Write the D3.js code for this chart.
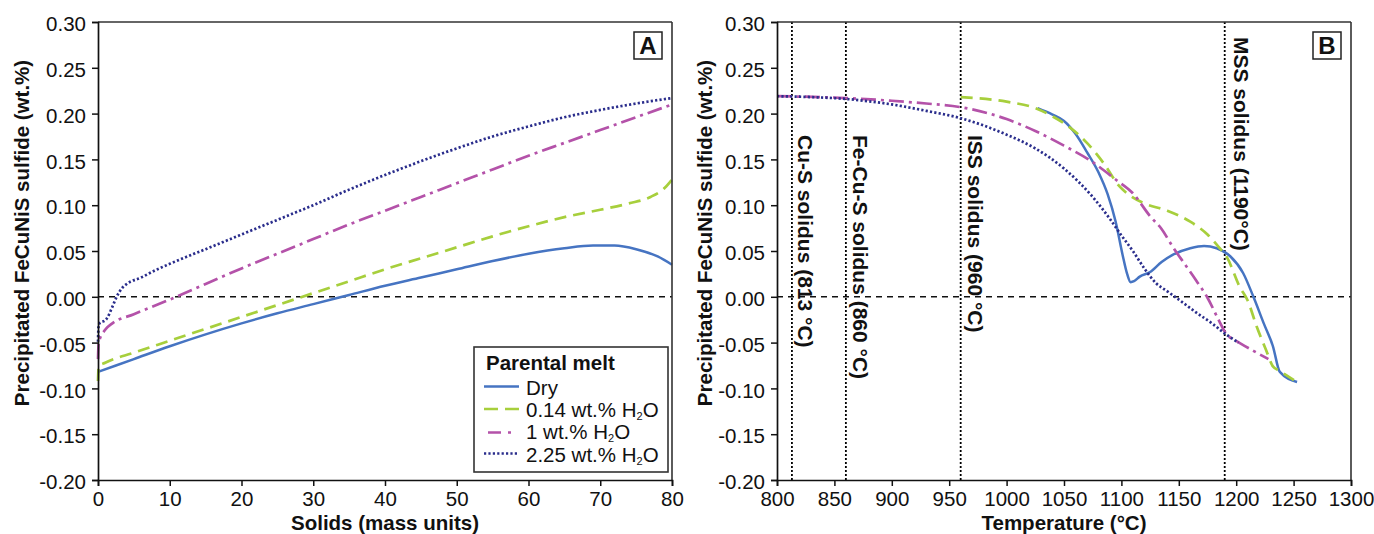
<!DOCTYPE html>
<html>
<head>
<meta charset="utf-8">
<script src="https://cdn.jsdelivr.net/npm/d3@7"></script>
<style>
  html, body { margin: 0; padding: 0; background: #fff; }
  svg text { font-family: "Liberation Sans", Arial, Helvetica, sans-serif; fill: #111; }
</style>
</head>
<body>
<svg id="chart" width="1374" height="534"></svg>
<script>
// ---------------- DATA ----------------
const yTicks = [0.30, 0.25, 0.20, 0.15, 0.10, 0.05, 0.00, -0.05, -0.10, -0.15, -0.20];
const xTicksA = [0, 10, 20, 30, 40, 50, 60, 70, 80];
const xTicksB = [800, 850, 900, 950, 1000, 1050, 1100, 1150, 1200, 1250, 1300];

const seriesNames = ["Dry", "0.14 wt.% H2O", "1 wt.% H2O", "2.25 wt.% H2O"];

// Panel A: solids (mass units) vs precipitated sulfide (wt.%)
const dryA = [[0,-0.082],[5,-0.068],[10,-0.054],[15,-0.041],[20,-0.029],[25,-0.018],[30,-0.008],[35,0.002],[40,0.012],[45,0.021],[50,0.030],[55,0.039],[60,0.047],[65,0.053],[69,0.056],[72,0.056],[75,0.052],[78,0.044],[80,0.035]];
const h014A = [[0,-0.092],[0.1,-0.076],[1,-0.072],[5,-0.061],[10,-0.048],[15,-0.035],[20,-0.022],[25,-0.009],[30,0.004],[35,0.017],[40,0.030],[45,0.042],[50,0.054],[55,0.066],[60,0.077],[65,0.087],[70,0.095],[74,0.102],[77,0.109],[79,0.119],[80,0.128]];
const h1A = [[0,-0.068],[0.1,-0.05],[1,-0.036],[2,-0.029],[5,-0.019],[10,-0.003],[15,0.014],[20,0.031],[25,0.047],[30,0.063],[35,0.079],[40,0.094],[45,0.109],[50,0.124],[55,0.139],[60,0.154],[65,0.168],[70,0.182],[75,0.196],[80,0.210]];
const h225A = [[0,-0.049],[0.1,-0.03],[1.2,-0.024],[2,-0.011],[2.6,0.0],[3.3,0.009],[4,0.014],[6,0.021],[8,0.029],[10,0.036],[15,0.052],[20,0.068],[25,0.084],[30,0.100],[35,0.117],[40,0.133],[45,0.148],[50,0.162],[55,0.175],[60,0.186],[65,0.196],[70,0.204],[75,0.211],[80,0.217]];

// Panel B: temperature (°C) vs precipitated sulfide (wt.%)
const dryB = [[1027,0.206],[1040,0.199],[1050,0.192],[1060,0.178],[1070,0.158],[1080,0.136],[1088,0.112],[1095,0.082],[1101,0.046],[1105,0.025],[1108,0.016],[1111,0.017],[1116,0.022],[1125,0.027],[1135,0.038],[1145,0.046],[1160,0.053],[1172,0.0555],[1183,0.053],[1195,0.044],[1206,0.026],[1215,0.0],[1224,-0.029],[1232,-0.054],[1238,-0.082],[1253,-0.093]];
const h014B = [[960,0.218],[1000,0.213],[1025,0.206],[1040,0.197],[1055,0.185],[1070,0.168],[1085,0.145],[1098,0.121],[1108,0.110],[1120,0.102],[1140,0.094],[1160,0.082],[1175,0.068],[1185,0.054],[1192,0.043],[1203,0.011],[1210,-0.004],[1218,-0.033],[1226,-0.058],[1232,-0.076],[1238,-0.081],[1253,-0.093]];
const h1B = [[800,0.219],[860,0.217],[900,0.214],[930,0.211],[960,0.207],[1000,0.194],[1025,0.181],[1050,0.165],[1075,0.147],[1095,0.128],[1110,0.113],[1125,0.088],[1135,0.074],[1145,0.054],[1155,0.036],[1165,0.018],[1175,-0.001],[1185,-0.026],[1191,-0.040],[1200,-0.048],[1215,-0.059],[1228,-0.068]];
const h225B = [[800,0.219],[830,0.218],[860,0.216],[900,0.210],[930,0.203],[960,0.195],[1000,0.177],[1025,0.162],[1050,0.140],[1075,0.109],[1090,0.085],[1100,0.067],[1110,0.050],[1120,0.031],[1130,0.015],[1140,0.006],[1150,-0.003],[1165,-0.017],[1180,-0.030],[1190,-0.040],[1202,-0.050]];

const solidusTemps = [813, 860, 960, 1190];
const solidusLabels = ["Cu-S solidus (813 °C)", "Fe-Cu-S solidus (860 °C)", "ISS solidus (960 °C)", "MSS solidus (1190°C)"];

// ---------------- STYLES ----------------
const styles = [
  { color: "#4674c2", dash: null, width: 2.5 },
  { color: "#a7cf3c", dash: "12,7", width: 2.7 },
  { color: "#b452a9", dash: "15,5,3,5", width: 2.7 },
  { color: "#2a2d8c", dash: "2.2,2.2", width: 2.7 }
];

const svg = d3.select("#chart");
const plotTop = 22, plotBottom = 480;
const y = d3.scaleLinear().domain([-0.20, 0.30]).range([plotBottom, plotTop]);

function panel(opts) {
  const { x0, x1, domain, ticks, series, title, ytitleX, letter, letterX } = opts;
  const x = d3.scaleLinear().domain(domain).range([x0, x1]);
  const g = svg.append("g");

  // zero dashed line
  g.append("line")
    .attr("x1", x0).attr("x2", x1).attr("y1", y(0)).attr("y2", y(0))
    .attr("stroke", "#111").attr("stroke-width", 1.4).attr("stroke-dasharray", "6,5");

  if (opts.vlines) opts.vlines(g, x);

  const line = d3.line().x(d => x(d[0])).y(d => y(d[1])).curve(d3.curveMonotoneX);
  series.forEach((s, i) => {
    g.append("path").datum(s)
      .attr("d", line)
      .attr("fill", "none")
      .attr("stroke", styles[i].color)
      .attr("stroke-width", styles[i].width)
      .attr("stroke-dasharray", styles[i].dash);
  });

  // frame
  g.append("line").attr("x1", x0).attr("x2", x1).attr("y1", plotTop).attr("y2", plotTop)
    .attr("stroke", "#333").attr("stroke-width", 1.6);
  g.append("line").attr("x1", x1).attr("x2", x1).attr("y1", plotTop).attr("y2", plotBottom)
    .attr("stroke", "#333").attr("stroke-width", 1.6);

  // axes
  const ya = g.append("g").attr("transform", `translate(${x0},0)`)
    .call(d3.axisLeft(y).tickValues(yTicks).tickFormat(d => d.toFixed(2)).tickSize(6).tickPadding(6));
  ya.select(".domain").attr("stroke", "#111").attr("stroke-width", 1.7);
  ya.selectAll(".tick line").attr("stroke", "#111").attr("stroke-width", 1.5);
  ya.selectAll(".tick text").attr("font-size", 20.5).attr("font-family", null).attr("dy", "0.42em").attr("fill", "#111");

  const xa = g.append("g").attr("transform", `translate(0,${plotBottom})`)
    .call(d3.axisBottom(x).tickValues(ticks).tickFormat(d3.format("d")).tickSize(6).tickPadding(6));
  xa.select(".domain").attr("stroke", "#111").attr("stroke-width", 1.7);
  xa.selectAll(".tick line").attr("stroke", "#111").attr("stroke-width", 1.5);
  xa.selectAll(".tick text").attr("font-size", 20.5).attr("font-family", null).attr("y", 26).attr("dy", 0).attr("fill", "#111");

  // axis titles
  g.append("text").attr("x", (x0 + x1) / 2).attr("y", 530)
    .attr("text-anchor", "middle").attr("font-size", 20.5).attr("font-weight", "bold").text(title);
  g.append("text").attr("transform", `translate(${ytitleX},233) rotate(-90)`)
    .attr("text-anchor", "middle").attr("font-size", 20.5).attr("font-weight", "bold")
    .text("Precipitated FeCuNiS sulfide (wt.%)");

  // panel letter
  g.append("rect").attr("x", letterX).attr("y", 32).attr("width", 28).attr("height", 27)
    .attr("fill", "#fff").attr("stroke", "#222").attr("stroke-width", 1.5);
  g.append("text").attr("x", letterX + 14).attr("y", 54).attr("text-anchor", "middle")
    .attr("font-size", 24).attr("font-weight", "bold").text(letter);

  return { g, x };
}

// Panel A
const A = panel({
  x0: 98, x1: 672, domain: [0, 80], ticks: xTicksA,
  series: [dryA, h014A, h1A, h225A],
  title: "Solids (mass units)", ytitleX: 28.5, letter: "A", letterX: 634
});

// Panel B
const labelTops = [135, 135, 135, 37];
const labelOffsets = [6.5, 7, 7.5, 9.5];
const B = panel({
  x0: 777, x1: 1351, domain: [800, 1300], ticks: xTicksB,
  series: [dryB, h014B, h1B, h225B],
  title: "Temperature (°C)", ytitleX: 711.5, letter: "B", letterX: 1313,
  vlines: (g, x) => {
    solidusTemps.forEach((t, i) => {
      g.append("line").attr("x1", x(t)).attr("x2", x(t)).attr("y1", plotTop).attr("y2", plotBottom)
        .attr("stroke", "#000").attr("stroke-width", 1.8).attr("stroke-dasharray", "2,2");
      g.append("text")
        .attr("transform", `translate(${x(t) + labelOffsets[i]},${labelTops[i]}) rotate(90)`)
        .attr("text-anchor", "start").attr("font-size", 21).attr("font-weight", "bold")
        .text(solidusLabels[i]);
    });
  }
});

// Legend (panel A)
const lg = A.g.append("g");
lg.append("rect").attr("x", 474).attr("y", 347).attr("width", 194).attr("height", 125)
  .attr("fill", "#fff").attr("stroke", "#333").attr("stroke-width", 1.6);
lg.append("text").attr("x", 486).attr("y", 370).attr("font-size", 20.5).attr("font-weight", "bold").text("Parental melt");
const legBase = [395, 417, 439, 461.5];
const legLineY = [386.5, 409, 432.5, 453.5];
const legLineX = [[484, 519], [484, 519], [488, 515], [484, 519]];
const legDash = [null, "14,7", "13,7,3,5", "2.2,2.2"];
seriesNames.forEach((name, i) => {
  lg.append("line").attr("x1", legLineX[i][0]).attr("x2", legLineX[i][1])
    .attr("y1", legLineY[i]).attr("y2", legLineY[i])
    .attr("stroke", styles[i].color).attr("stroke-width", styles[i].width)
    .attr("stroke-dasharray", legDash[i]);
  const t = lg.append("text").attr("x", 526).attr("y", legBase[i]).attr("font-size", 20.5);
  if (name.endsWith("H2O")) {
    t.append("tspan").text(name.replace("H2O", "H"));
    t.append("tspan").attr("font-size", 11).attr("dy", 3).text("2");
    t.append("tspan").attr("dy", -3).text("O");
  } else {
    t.text(name);
  }
});
</script>
</body>
</html>
